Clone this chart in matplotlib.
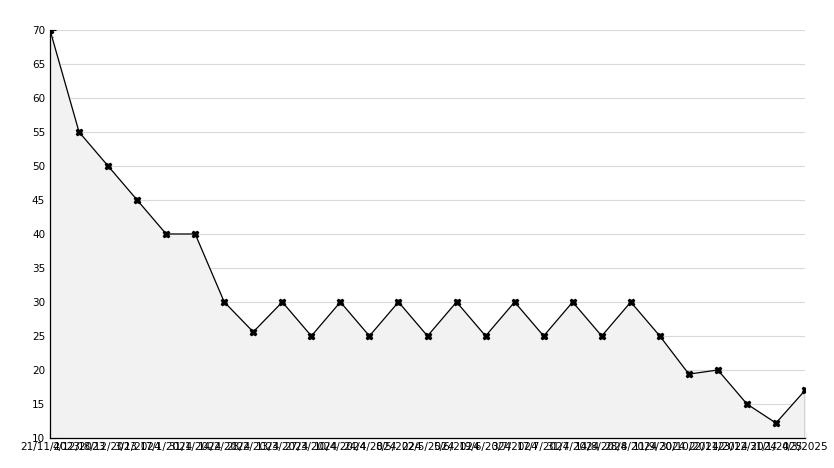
import matplotlib
matplotlib.use("Agg")
import matplotlib.pyplot as plt
from matplotlib.ticker import MultipleLocator

dates = ["21/11/2023", "4/12/2023", "18/12/2023", "3/1/2024", "17/1/2024",
         "31/1/2024", "14/2/2024", "28/2/2024", "13/3/2024", "27/3/2024",
         "10/4/2024", "24/4/2024", "8/5/2024", "22/5/2024", "5/6/2024",
         "19/6/2024", "3/7/2024", "17/7/2024", "31/7/2024", "14/8/2024",
         "28/8/2024", "11/9/2024", "30/10/2024", "22/11/2024", "23/12/2024",
         "31/1/2025", "4/3/2025"]
values = [70, 55, 50, 45, 40, 40, 30, 25.6, 30, 25, 30, 25, 30, 25, 30,
          25, 30, 25, 30, 25, 30, 25, 19.4, 20, 15, 12.2, 17]

fig = plt.figure(figsize=(8.34, 4.68), dpi=100)
ax = fig.add_axes([50 / 834, 30 / 468, 755 / 834, 408 / 468])

x = list(range(len(values)))
ax.fill_between(x, values, 10, color='#f2f2f2', zorder=1)
ax.plot(x, values, color='black', lw=0.9, marker='X', ms=5, zorder=3)
ax.vlines(x[-1], 10, values[-1], color='black', lw=0.9, zorder=3)

ax.set_xlim(0, len(values) - 1)
ax.set_ylim(10, 70)
ax.yaxis.set_major_locator(MultipleLocator(5))
ax.yaxis.set_minor_locator(MultipleLocator(1))
ax.grid(axis='y', color='#d9d9d9', lw=0.8, zorder=0)
ax.set_axisbelow(True)

ax.set_xticks(x)
ax.set_xticklabels(dates, fontsize=7.5)
ax.tick_params(axis='y', labelsize=7.5, length=4, width=0.8, direction='in')
ax.tick_params(axis='y', which='minor', length=2.5, width=0.8, direction='in')
ax.tick_params(axis='x', length=5, width=0.8, direction='in', pad=3)

for side in ['top', 'right']:
    ax.spines[side].set_visible(False)
for side in ['left', 'bottom']:
    ax.spines[side].set_linewidth(0.9)

plt.savefig('out.png', dpi=100)
